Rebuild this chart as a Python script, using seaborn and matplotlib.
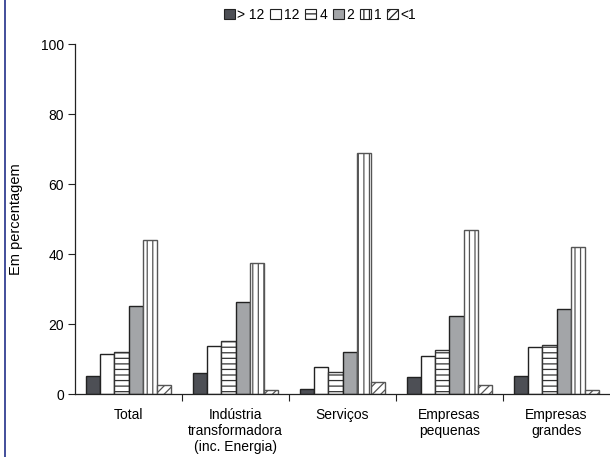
import matplotlib
matplotlib.use("Agg")
import matplotlib.pyplot as plt
from matplotlib.patches import Patch
from matplotlib.lines import Line2D
import seaborn as sns
import pandas as pd

# Survey categories and frequency classes
categories = ["Total", "Indústria\ntransformadora\n(inc. Energia)", "Serviços",
              "Empresas\npequenas", "Empresas\ngrandes"]
classes = ["> 12", "12", "4", "2", "1", "<1"]

# Percentages per frequency class, one entry per category
gt12 = [5.2, 6.0, 1.4, 4.9, 5.2]
v12 = [11.3, 13.7, 7.6, 10.9, 13.4]
v4 = [12.0, 15.1, 6.2, 12.5, 13.9]
v2 = [25.2, 26.4, 11.9, 22.3, 24.3]
v1 = [43.9, 37.3, 69.0, 46.9, 41.9]
lt1 = [2.6, 1.1, 3.4, 2.7, 1.1]
yticks = [0, 20, 40, 60, 80, 100]

series = [gt12, v12, v4, v2, v1, lt1]
rows = []
for cls, vals in zip(classes, series):
    for cat, v in zip(categories, vals):
        rows.append({"categoria": cat, "classe": cls, "valor": v})
df = pd.DataFrame(rows)

sns.set_theme(style="white")
plt.rcParams["font.family"] = ["Liberation Sans", "DejaVu Sans"]
plt.rcParams["hatch.linewidth"] = 0.9
plt.rcParams["text.color"] = "black"
plt.rcParams["xtick.color"] = "black"
plt.rcParams["ytick.color"] = "black"
plt.rcParams["axes.labelcolor"] = "black"

styles = [
    dict(facecolor="#4d4f55", hatch=None, edgecolor="#222222"),
    dict(facecolor="white", hatch=None, edgecolor="#222222"),
    dict(facecolor="white", hatch="---", edgecolor="#333333"),
    dict(facecolor="#a3a5a8", hatch=None, edgecolor="#222222"),
    dict(facecolor="white", hatch="|||", edgecolor="#555555"),
    dict(facecolor="white", hatch="////", edgecolor="#555555"),
]

fig = plt.figure(figsize=(6.10, 4.57), dpi=100)
ax = fig.add_axes([75 / 610, 1 - 394 / 457, 535 / 610, 350 / 457])

sns.barplot(data=df, x="categoria", y="valor", hue="classe", order=categories,
            hue_order=classes, width=0.8, ax=ax, legend=False)

for cont, st in zip(ax.containers, styles):
    for bar in cont:
        bar.set_facecolor(st["facecolor"])
        bar.set_edgecolor(st["edgecolor"])
        bar.set_linewidth(1.0)
        if st["hatch"]:
            bar.set_hatch(st["hatch"])

ax.set_xlim(-0.5, 4.5)
ax.set_ylim(0, 100)
ax.set_yticks(yticks)
ax.set_yticklabels([str(t) for t in yticks], fontsize=10)
ax.tick_params(axis="y", direction="out", length=5, width=0.8, left=True,
               color="#222222", pad=3)

# category boundaries carry the tick marks, centres carry the labels
ax.set_xticks([0.5, 1.5, 2.5, 3.5], minor=False)
ax.set_xticklabels([])
ax.tick_params(axis="x", which="major", direction="out", length=5, width=0.8,
               bottom=True, color="#222222")
ax.set_xticks(range(len(categories)), minor=True)
ax.set_xticklabels(categories, minor=True, fontsize=10, linespacing=1.2)
ax.tick_params(axis="x", which="minor", length=0, pad=10)

ax.set_xlabel("")
ax.set_ylabel("Em percentagem", fontsize=10.5)
ax.yaxis.set_label_coords(-0.097, 0.5)

for side in ["top", "right"]:
    ax.spines[side].set_visible(False)
for side in ["left", "bottom"]:
    ax.spines[side].set_color("#222222")
    ax.spines[side].set_linewidth(0.9)

handles = [Patch(facecolor=st["facecolor"], edgecolor="#222222",
                 hatch=st["hatch"], linewidth=0.8) for st in styles]
fig.legend(handles, classes, loc="center", bbox_to_anchor=(320 / 610, 1 - 15 / 457),
           ncol=6, frameon=False, fontsize=10, handlelength=0.8, handleheight=0.8,
           handletextpad=0.2, columnspacing=0.4, borderpad=0.2)

fig.add_artist(Line2D([5 / 610, 5 / 610], [0, 1], transform=fig.transFigure,
                      color="#22308a", linewidth=1.2))

fig.savefig("out.png", dpi=100)
